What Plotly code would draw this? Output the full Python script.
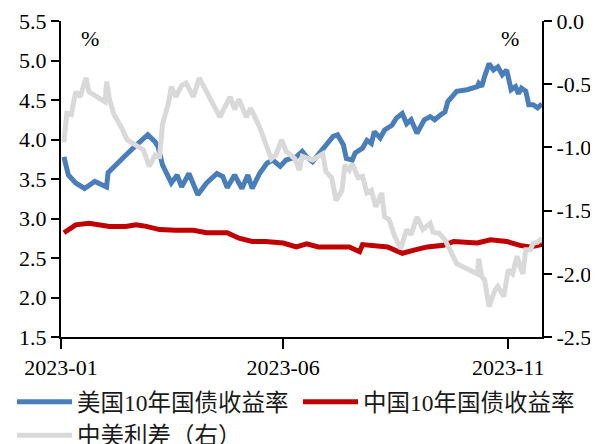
import plotly.graph_objects as go

# ---------------- data ----------------
us_dates = [
    "2023-01-03", "2023-01-06", "2023-01-11", "2023-01-17", "2023-01-24",
    "2023-02-01", "2023-02-02", "2023-02-08", "2023-02-14", "2023-02-19",
    "2023-03-01", "2023-03-06", "2023-03-08", "2023-03-11", "2023-03-17", "2023-03-21", "2023-03-24", "2023-03-29",
    "2023-04-04", "2023-04-10", "2023-04-17", "2023-04-21", "2023-04-24", "2023-04-29",
    "2023-05-04", "2023-05-08", "2023-05-11", "2023-05-16", "2023-05-21", "2023-05-25", "2023-05-30",
    "2023-06-03", "2023-06-10", "2023-06-14", "2023-06-17", "2023-06-21", "2023-06-28",
    "2023-07-05", "2023-07-08", "2023-07-12", "2023-07-14", "2023-07-18", "2023-07-20", "2023-07-25", "2023-07-28", "2023-07-31",
    "2023-08-02", "2023-08-06", "2023-08-09", "2023-08-14", "2023-08-17", "2023-08-21", "2023-08-24", "2023-08-27", "2023-08-31",
    "2023-09-02", "2023-09-05", "2023-09-09", "2023-09-12", "2023-09-16", "2023-09-19", "2023-09-21", "2023-09-25", "2023-09-27",
    "2023-10-04", "2023-10-11", "2023-10-12", "2023-10-14", "2023-10-16", "2023-10-19", "2023-10-22", "2023-10-25", "2023-10-28", "2023-10-31",
    "2023-11-03", "2023-11-06", "2023-11-08", "2023-11-10", "2023-11-13", "2023-11-15", "2023-11-18", "2023-11-21", "2023-11-24",
]
us_yield = [
    3.78, 3.55, 3.45, 3.38, 3.47,
    3.40, 3.58, 3.70, 3.80, 3.89,
    4.06, 3.97, 3.91, 3.68, 3.45, 3.55, 3.40, 3.57,
    3.30, 3.45, 3.57, 3.53, 3.39, 3.55,
    3.38, 3.55, 3.38, 3.57, 3.70, 3.74, 3.66,
    3.74, 3.78, 3.85, 3.78, 3.72, 3.87,
    4.04, 4.06, 3.93, 3.76, 3.74, 3.83, 3.89, 3.99, 3.95,
    4.10, 4.02, 4.12, 4.18, 4.27, 4.33, 4.20, 4.25, 4.08,
    4.14, 4.25, 4.29, 4.25, 4.31, 4.35, 4.48, 4.56, 4.61,
    4.63, 4.67, 4.71, 4.67, 4.80, 4.96, 4.88, 4.92, 4.82, 4.88,
    4.63, 4.67, 4.58, 4.65, 4.61, 4.44, 4.44, 4.40, 4.45,
]

cn_dates = [
    "2023-01-03", "2023-01-11", "2023-01-20", "2023-01-27",
    "2023-02-03", "2023-02-14", "2023-02-21", "2023-02-28",
    "2023-03-09", "2023-03-20",
    "2023-04-01", "2023-04-10", "2023-04-24",
    "2023-05-02", "2023-05-11", "2023-05-20",
    "2023-06-01", "2023-06-10", "2023-06-17", "2023-06-25",
    "2023-07-09", "2023-07-16", "2023-07-23", "2023-07-25",
    "2023-08-11", "2023-08-21", "2023-08-29",
    "2023-09-07", "2023-09-18", "2023-09-25",
    "2023-10-11", "2023-10-20", "2023-10-31",
    "2023-11-09", "2023-11-16", "2023-11-24",
]
cn_yield = [
    2.82, 2.92, 2.94, 2.92,
    2.90, 2.90, 2.92, 2.90,
    2.86, 2.85,
    2.85, 2.82, 2.82,
    2.75, 2.71, 2.71,
    2.69, 2.64, 2.68, 2.64,
    2.65, 2.64, 2.58, 2.67,
    2.64, 2.56, 2.60,
    2.64, 2.66, 2.71,
    2.69, 2.73, 2.71,
    2.66, 2.64, 2.67,
]

spread_dates = [
    "2023-01-03", "2023-01-05", "2023-01-08", "2023-01-11", "2023-01-14", "2023-01-18", "2023-01-20", "2023-01-26", "2023-01-31",
    "2023-02-01", "2023-02-03", "2023-02-06", "2023-02-11", "2023-02-15", "2023-02-20", "2023-02-26",
    "2023-03-02", "2023-03-06", "2023-03-09", "2023-03-11", "2023-03-15", "2023-03-17", "2023-03-20", "2023-03-24", "2023-03-27",
    "2023-04-01", "2023-04-05", "2023-04-10", "2023-04-14", "2023-04-19", "2023-04-22", "2023-04-26", "2023-04-29",
    "2023-05-02", "2023-05-07", "2023-05-10", "2023-05-16", "2023-05-20", "2023-05-24", "2023-05-27", "2023-05-31",
    "2023-06-03", "2023-06-09", "2023-06-12", "2023-06-14", "2023-06-21", "2023-06-28", "2023-06-30",
    "2023-07-04", "2023-07-07", "2023-07-11", "2023-07-13", "2023-07-16", "2023-07-18", "2023-07-22", "2023-07-25", "2023-07-28", "2023-07-31",
    "2023-08-03", "2023-08-07", "2023-08-09", "2023-08-12", "2023-08-16", "2023-08-20", "2023-08-24", "2023-08-27", "2023-08-31",
    "2023-09-04", "2023-09-09", "2023-09-11", "2023-09-15", "2023-09-19", "2023-09-22", "2023-09-27",
    "2023-10-04", "2023-10-11", "2023-10-12", "2023-10-14", "2023-10-16", "2023-10-19", "2023-10-23", "2023-10-25", "2023-10-29",
    "2023-11-01", "2023-11-04", "2023-11-07", "2023-11-09", "2023-11-11", "2023-11-13", "2023-11-16", "2023-11-18", "2023-11-21", "2023-11-24",
]
spread = [
    -0.96, -0.73, -0.74, -0.56, -0.60, -0.45, -0.56, -0.60, -0.64,
    -0.48, -0.62, -0.74, -0.84, -0.94, -0.98, -1.02,
    -1.15, -1.06, -1.07, -0.82, -0.65, -0.52, -0.60, -0.51, -0.49,
    -0.60, -0.45, -0.56, -0.65, -0.76, -0.69, -0.60, -0.70,
    -0.62, -0.76, -0.69, -0.84, -0.98, -1.09, -1.06, -0.94,
    -1.03, -1.09, -1.18, -1.07, -1.10, -1.05, -1.19,
    -1.24, -1.42, -1.34, -1.14, -1.18, -1.13, -1.24, -1.23, -1.36, -1.34,
    -1.47, -1.36, -1.55, -1.57, -1.71, -1.80, -1.65, -1.69, -1.55,
    -1.65, -1.60, -1.67, -1.68, -1.73, -1.81, -1.92,
    -1.96, -2.00, -1.88, -2.02, -2.05, -2.26, -2.13, -2.10, -2.18,
    -1.97, -2.00, -1.86, -1.94, -2.00, -1.81, -1.81, -1.76, -1.75, -1.72,
]

series_names = ["美国10年国债收益率", "中国10年国债收益率", "中美利差（右）"]

x_tick_vals = ["2023-01-01", "2023-06-01", "2023-11-01"]
x_tick_text = ["2023-01", "2023-06", "2023-11"]
y_left_ticks = [1.5, 2.0, 2.5, 3.0, 3.5, 4.0, 4.5, 5.0, 5.5]
y_right_ticks = [-2.5, -2.0, -1.5, -1.0, -0.5, 0.0]
y_right_text = ["-2.5", "-2.0", "-1.5", "-1.0", "-0.5", "0.0"]
unit_label = "%"

# ---------------- figure ----------------
SERIF = "Liberation Serif"
LEGEND_FONT = "Liberation Serif, Noto Sans CJK SC"

# the page body adds an 8 px offset; figure coordinates are set to land on the reference
W, H = 598, 444
PLOT_L, PLOT_T, PLOT_W, PLOT_H = 53, 13, 481, 316

fig = go.Figure()
fig.add_trace(go.Scatter(x=us_dates, y=us_yield, name=series_names[0], mode="lines",
                         line=dict(color="#4a7ebb", width=5), legend="legend"))
fig.add_trace(go.Scatter(x=cn_dates, y=cn_yield, name=series_names[1], mode="lines",
                         line=dict(color="#c00000", width=5), legend="legend2"))
fig.add_trace(go.Scatter(x=spread_dates, y=spread, name=series_names[2], mode="lines",
                         line=dict(color="#d9d9d9", width=5), yaxis="y2", legend="legend"))

axis_common = dict(showline=True, linecolor="black", linewidth=2, ticks="outside",
                   tickcolor="black", tickwidth=2, showgrid=False, zeroline=False,
                   tickfont=dict(family=SERIF, size=22, color="black"))

legend_common = dict(orientation="v", xref="container", yref="container",
                     xanchor="left", yanchor="top",
                     font=dict(family=LEGEND_FONT, size=23.5, color="#1a1a1a"),
                     itemwidth=55, tracegroupgap=0, bgcolor="rgba(0,0,0,0)")

fig.update_layout(
    width=W, height=H,
    margin=dict(l=PLOT_L, r=W - PLOT_L - PLOT_W, t=PLOT_T, b=H - PLOT_T - PLOT_H, autoexpand=False),
    paper_bgcolor="white", plot_bgcolor="white",
    font=dict(family=SERIF, color="black"),
    xaxis=dict(type="date", range=["2023-01-01", "2023-11-24"],
               tickvals=x_tick_vals, ticktext=x_tick_text, ticklen=10, **axis_common),
    yaxis=dict(range=[1.5, 5.5], tickvals=y_left_ticks, tickformat=".1f", ticklen=8, **axis_common),
    yaxis2=dict(range=[-2.5, 0.0], overlaying="y", side="right", tickvals=y_right_ticks,
                ticktext=y_right_text, ticklen=8, **axis_common),
    showlegend=True,
    legend=dict(x=4 / W, y=1 - 372 / H, **legend_common),
    legend2=dict(x=290 / W, y=1 - 372 / H, **legend_common),
    annotations=[
        dict(text=unit_label, xref="paper", yref="paper", x=0.06, y=0.946, showarrow=False,
             xanchor="center", yanchor="middle", font=dict(family=SERIF, size=22, color="black")),
        dict(text=unit_label, xref="paper", yref="paper", x=0.933, y=0.946, showarrow=False,
             xanchor="center", yanchor="middle", font=dict(family=SERIF, size=22, color="black")),
    ],
)

fig.write_html("out.html")
